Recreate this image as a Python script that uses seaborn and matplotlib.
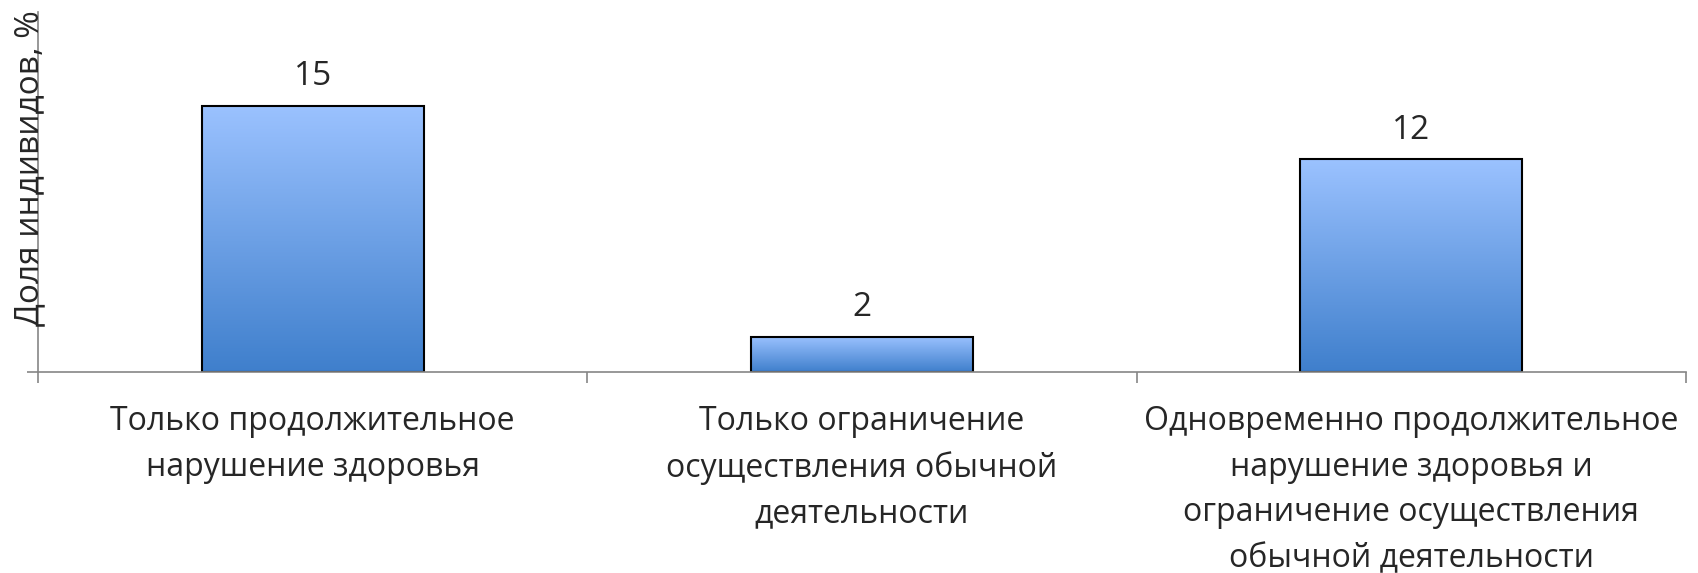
import numpy as np
import matplotlib
matplotlib.use('Agg')
import matplotlib.pyplot as plt
import matplotlib.colors as mcolors
import seaborn as sns

categories = ['Только продолжительное\nнарушение здоровья',
              'Только ограничение\nосуществления обычной\nдеятельности',
              'Одновременно продолжительное\nнарушение здоровья и\nограничение осуществления\nобычной деятельности']
values = [15, 2, 12]
ylabel = 'Доля индивидов, %'

sns.set_style('white')
plt.rcParams['font.family'] = ['Open Sans', 'DejaVu Sans']

fig = plt.figure(figsize=(16.99, 5.73), dpi=100)
ax = fig.add_axes([38 / 1699, 1 - 372 / 573, (1686 - 38) / 1699, (372 - 12) / 573])

sns.barplot(x=list(range(len(values))), y=values, width=0.404, color='#5b8fd8',
            edgecolor='black', linewidth=1.5, ax=ax)

# vertical gradient inside each bar, light on top, darker at the bottom
grad_cmap = mcolors.LinearSegmentedColormap.from_list('bar', ['#3f7fcc', '#9bc2ff'])
grad = np.linspace(0, 1, 256).reshape(-1, 1)
for p in ax.patches:
    x0, y0 = p.get_x(), p.get_y()
    w, h = p.get_width(), p.get_height()
    p.set_facecolor('none')
    im = ax.imshow(grad, cmap=grad_cmap, origin='lower', aspect='auto',
                   extent=[x0, x0 + w, y0, y0 + h], zorder=p.get_zorder() - 0.1)
    im.set_clip_path(p)
    ax.annotate(str(int(h)), (x0 + w / 2, h), xytext=(0, 9), textcoords='offset points',
                ha='center', va='bottom', fontsize=24)

ax.set_xlim(-0.5, len(values) - 0.5)
ax.set_ylim(0, 20.3)

ax.set_xticks(range(len(values)))
ax.set_xticklabels(categories, fontsize=23, linespacing=1.5, va='top')
ax.tick_params(axis='x', which='major', length=0, pad=24)
ax.set_xticks(np.arange(-0.5, len(values)), minor=True)
ax.tick_params(axis='x', which='minor', length=8, color='#868686', width=1.2, bottom=True)

ax.set_yticks([0])
ax.set_yticklabels([''])
ax.tick_params(axis='y', length=8, color='#868686', width=1.2, left=True)
ax.set_ylabel('')

for s in ['top', 'right']:
    ax.spines[s].set_visible(False)
for s in ['left', 'bottom']:
    ax.spines[s].set_color('#868686')
    ax.spines[s].set_linewidth(1.2)

fig.text(30 / 1699, 1 - 10 / 573, ylabel, rotation=90, ha='center', va='top', fontsize=24)

fig.savefig('out.png', dpi=100)
